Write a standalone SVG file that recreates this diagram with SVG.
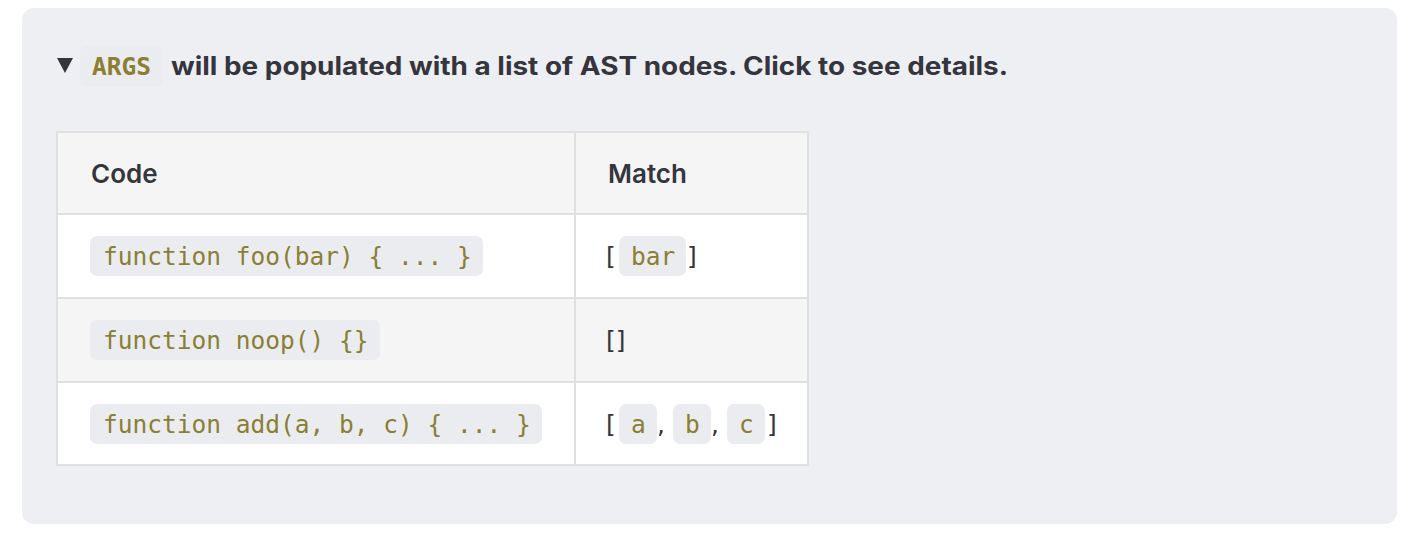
<svg xmlns="http://www.w3.org/2000/svg" width="1420" height="538" viewBox="0 0 1420 538">
<style>
.t{font-family:Inter,"Liberation Sans",sans-serif;fill:#35353d}
.h{font-size:26px;font-weight:600}
.c{font-family:"DejaVu Sans Mono","Liberation Mono",monospace;font-size:24.5px;fill:#8a7f33}
.pill{fill:#ebecf0}
.line{stroke:#e0e0e0;stroke-width:2}
.br{font-family:"DejaVu Sans","Liberation Sans",sans-serif;font-size:25px;fill:#35353d}
</style>
<rect x="22" y="8" width="1375" height="516" rx="12" fill="#eeeff3"/>
<g id="summary">
<polygon points="57,58 73,58 65,73" fill="#35353d"/>
<rect class="pill" x="80" y="46" width="83" height="41" rx="7" fill="#e3e4e9"/>
<text class="c" x="92" y="75" font-weight="bold" font-size="23">ARGS</text>
<text class="t" x="171" y="75" font-size="25" font-weight="bold" textLength="837" lengthAdjust="spacingAndGlyphs">will be populated with a list of AST nodes. Click to see details.</text>
</g>
<g id="table">
<rect x="57" y="132" width="751" height="82" fill="#f5f5f5"/>
<rect x="57" y="214" width="751" height="84" fill="#ffffff"/>
<rect x="57" y="298" width="751" height="84" fill="#f5f5f5"/>
<rect x="57" y="382" width="751" height="83" fill="#ffffff"/>
<rect x="57" y="132" width="751" height="333" fill="none" class="line"/>
<line class="line" x1="575" y1="132" x2="575" y2="465"/>
<line class="line" x1="57" y1="214" x2="808" y2="214"/>
<line class="line" x1="57" y1="298" x2="808" y2="298"/>
<line class="line" x1="57" y1="382" x2="808" y2="382"/>
<text class="t h" x="91" y="183">Code</text>
<text class="t h" x="608" y="183">Match</text>
</g>
<g id="row1">
<rect class="pill" x="90" y="236" width="393" height="40" rx="7"/>
<text class="c" x="103" y="265">function foo(bar) { ... }</text>
<text class="br" x="606" y="265">[</text>
<rect class="pill" x="619" y="236" width="67" height="40" rx="7"/>
<text class="c" x="631" y="265">bar</text>
<text class="br" x="687" y="265">]</text>
</g>
<g id="row2">
<rect class="pill" x="90" y="320" width="290" height="40" rx="7"/>
<text class="c" x="103" y="349">function noop() {}</text>
<text class="br" x="606" y="349">[]</text>
</g>
<g id="row3">
<rect class="pill" x="90" y="404" width="452" height="40" rx="7"/>
<text class="c" x="103" y="433">function add(a, b, c) { ... }</text>
<text class="br" x="606" y="433">[</text>
<rect class="pill" x="619" y="404" width="38" height="40" rx="7"/>
<text class="c" x="631" y="433">a</text>
<text class="br" x="657" y="433">,</text>
<rect class="pill" x="673" y="404" width="38" height="40" rx="7"/>
<text class="c" x="685" y="433">b</text>
<text class="br" x="711" y="433">,</text>
<rect class="pill" x="727" y="404" width="38" height="40" rx="7"/>
<text class="c" x="739" y="433">c</text>
<text class="br" x="767" y="433">]</text>
</g>
</svg>
